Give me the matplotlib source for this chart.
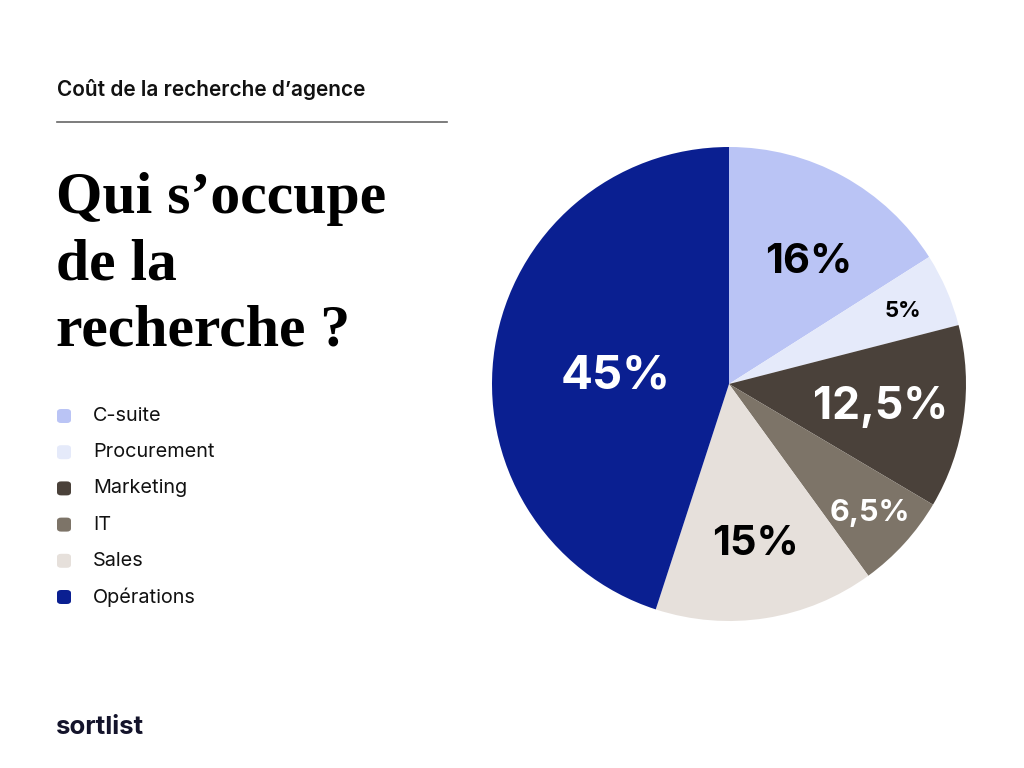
import numpy as np
import matplotlib
matplotlib.use("Agg")
import matplotlib.pyplot as plt

# data
categories = ["C-suite", "Procurement", "Marketing", "IT", "Sales", "Opérations"]
shares = [16, 5, 12.5, 6.5, 15, 45]
labels = ["16%", "5%", "12,5%", "6,5%", "15%", "45%"]
colors = ["#bac4f5", "#e5eafa", "#4a413a", "#7d7468", "#e6e0db", "#0a1f91"]
label_colors = ["black", "black", "white", "white", "black", "white"]
label_sizes = [30, 16, 32, 22, 30, 34]
label_radius = [0.63, 0.80, 0.645, 0.80, 0.667, 0.48]
label_nudge = [-3.3, 0, 1, 0.5, 0.5, 2.4]  # degrees off the wedge middle

fig = plt.figure(figsize=(10.24, 7.68), dpi=100)
fig.patch.set_facecolor("white")

sans = ["Inter", "DejaVu Sans"]
serif = ["Liberation Serif", "DejaVu Serif"]

# header
fig.text(57 / 1024, 1 - 89 / 768, "Coût de la recherche d’agence", family=sans,
         fontsize=15, fontweight="semibold", color="#111111", va="center")
fig.add_artist(plt.Line2D([57 / 1024, 447 / 1024], [1 - 122 / 768, 1 - 122 / 768],
                          color="#666666", lw=1.2))

# title
for i, line in enumerate(["Qui s’occupe", "de la", "recherche ?"]):
    fig.text(56 / 1024, 1 - (213 + i * 66) / 768, line, family=serif,
             fontsize=43, fontweight="bold", color="black", va="baseline")

# legend
for i, (cat, col) in enumerate(zip(categories, colors)):
    y = 1 - (416 + i * 36.2) / 768
    fig.add_artist(matplotlib.patches.FancyBboxPatch(
        (57 / 1024, y - 7 / 768), 14 / 1024, 14 / 768,
        boxstyle="round,pad=0,rounding_size=0.004", transform=fig.transFigure,
        facecolor=col, edgecolor="none"))
    fig.text(93 / 1024, y, cat, family=sans, fontsize=14.3, color="#111111",
             va="center")

# logo
fig.text(56 / 1024, 1 - 727 / 768, "sortlist", family=sans, fontsize=18.5,
         fontweight="bold", color="#14142b", va="center")

# pie
R_PX = 237
ax = fig.add_axes([492 / 1024, 147 / 768, 474 / 1024, 474 / 768])
wedges, _ = ax.pie(shares, colors=colors, startangle=90, counterclock=False,
                   radius=1, wedgeprops=dict(linewidth=0))
ax.set_xlim(-1, 1)
ax.set_ylim(-1, 1)
ax.set_aspect("equal")
ax.axis("off")

for w, lab, lc, ls, lr, dn in zip(wedges, labels, label_colors, label_sizes,
                                  label_radius, label_nudge):
    ang = np.deg2rad((w.theta1 + w.theta2) / 2 + dn)
    # put the middle of the digits (cap height) on the target point
    half_cap = 0.727 * ls * 100 / 72 / 2 / R_PX
    ax.text(lr * np.cos(ang), lr * np.sin(ang) - half_cap, lab, ha="center",
            va="baseline", family=sans, fontsize=ls, fontweight="bold", color=lc)

fig.savefig("out.png", dpi=100, facecolor="white")
